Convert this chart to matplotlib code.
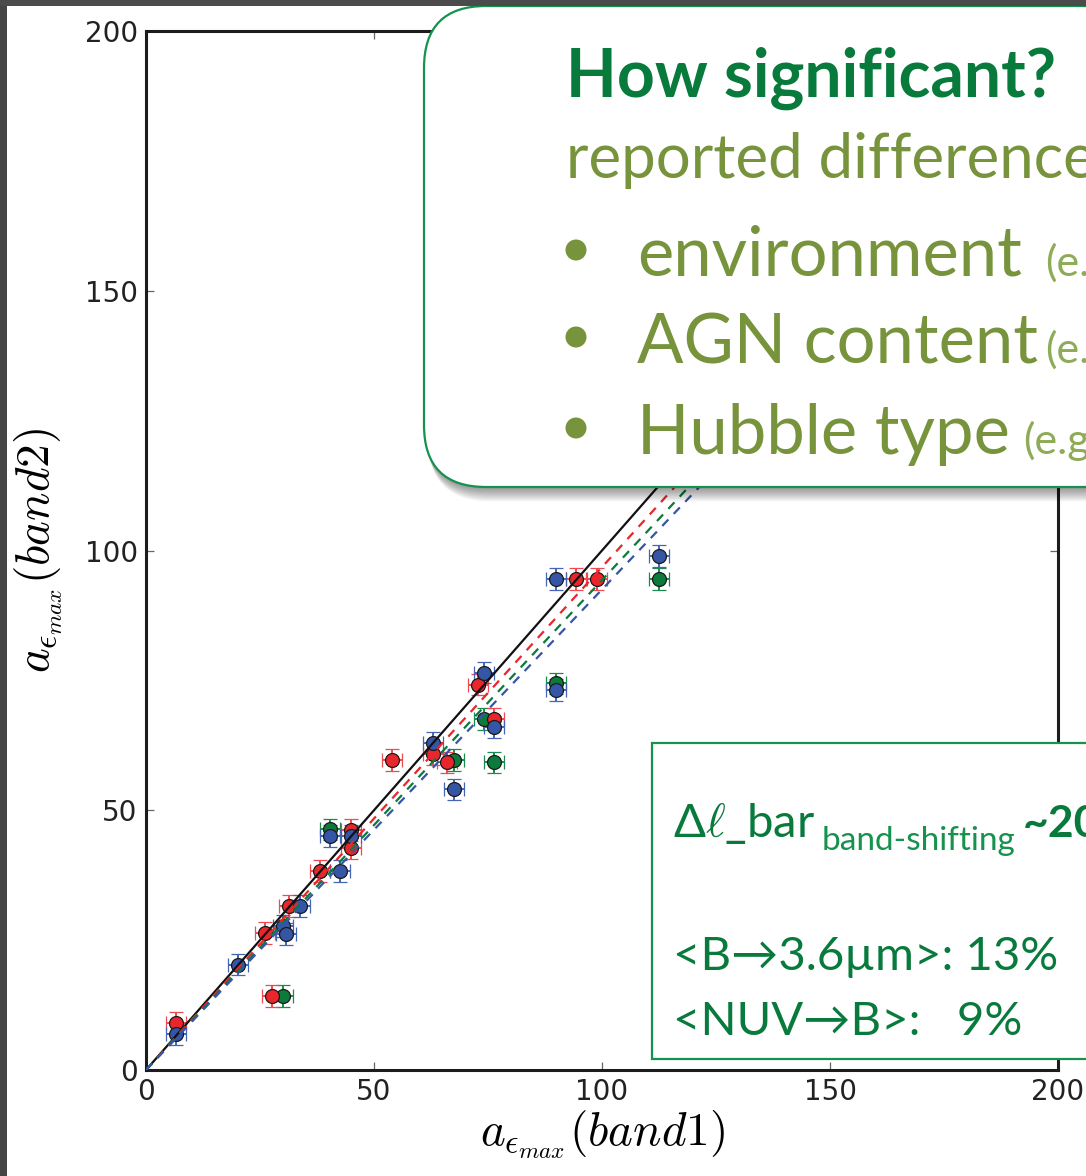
import matplotlib.pyplot as plt
from matplotlib.patches import FancyBboxPatch, Rectangle, Circle

plt.rcParams['mathtext.fontset'] = 'cm'

# a_eps_max measured in band1 (x) and band2 (y), one colour per band pair
red_x = [6.6, 26.1, 27.7, 31.4, 38.2, 45.0, 45.0, 53.9, 62.9, 66.0, 72.9, 76.4, 94.4, 99.0]
red_y = [9.1, 26.3, 14.2, 31.6, 38.3, 46.2, 42.8, 59.7, 60.8, 59.2, 74.2, 67.6, 94.5, 94.5]
green_x = [30.1, 40.4, 67.5, 74.1, 76.4, 89.9, 112.4]
green_y = [14.2, 46.3, 59.7, 67.6, 59.2, 74.4, 94.5]
blue_x = [6.6, 20.1, 30.0, 30.6, 33.8, 40.4, 42.5, 45.0, 62.9, 67.5, 74.1, 76.4, 89.9, 89.9, 112.4]
blue_y = [6.9, 20.3, 27.7, 26.2, 31.6, 45.0, 38.3, 45.0, 63.0, 54.0, 76.5, 66.0, 73.1, 94.5, 99.0]
x_err = 2.2
y_err = 2.1

# dashed fits y = s*x for each band pair
red_slope = 0.968
green_slope = 0.943
blue_slope = 0.925

ticks = [0, 50, 100, 150, 200]

bullets = ['environment', 'AGN content', 'Hubble type']
bullet_notes = ['(e.g.', '(e.g.', '(e.g.']

RED, GREEN, BLUE = '#e8262b', '#0b7a3b', '#3556a6'
RED_E, GREEN_E, BLUE_E = '#ef4a50', '#1a8a4e', '#4464b4'
DARK_GREEN = '#077a3c'
OLIVE = '#77933c'
BOX_GREEN = '#16924f'
FONT = ['Lato', 'DejaVu Sans']

W, H = 1086, 1176
fig = plt.figure(figsize=(W / 100, H / 100), dpi=100)
ax = fig.add_axes([146 / W, 1 - 1070 / H, 912 / W, 1039 / H])

for xs, ys, c, ec in [(green_x, green_y, GREEN, GREEN_E),
                      (red_x, red_y, RED, RED_E),
                      (blue_x, blue_y, BLUE, BLUE_E)]:
    ax.errorbar(xs, ys, xerr=x_err, yerr=y_err, fmt='o', ms=10, mfc=c,
                mec='#1a1a1a', mew=0.9, ecolor=ec, elinewidth=1.4,
                capsize=5, capthick=1.4, zorder=2)

line_x = [0, 200]
ax.plot(line_x, line_x, color='#111111', lw=1.6, zorder=3)
for s, c in [(red_slope, RED), (green_slope, GREEN), (blue_slope, BLUE)]:
    ax.plot(line_x, [s * v for v in line_x], color=c, lw=1.6,
            ls=(0, (4, 3.5)), zorder=3)

ax.set_xlim(0, 200)
ax.set_ylim(0, 200)
ax.set_xticks(ticks)
ax.set_yticks(ticks)
ax.tick_params(direction='in', length=6, width=0.9, color='#666666',
               labelsize=20, labelcolor='#222222', pad=6,
               top=True, right=True)
for sp in ax.spines.values():
    sp.set_linewidth(2.2)
    sp.set_color('#1c1c1c')
ax.set_xlabel(r'$a_{\epsilon_{max}}(band1)$', fontsize=34, labelpad=2)
ax.set_ylabel(r'$a_{\epsilon_{max}}(band2)$', fontsize=34, labelpad=14)

# overlay in pixel units for the slide call-outs
ov = fig.add_axes([0, 0, 1, 1], zorder=10)
ov.set_xlim(0, W)
ov.set_ylim(H, 0)
ov.axis('off')
ov.patch.set_alpha(0)

# soft shadow under the rounded call-out
for i in range(1, 13):
    ov.add_patch(FancyBboxPatch((424 + i * 0.35, 6 + i * 1.2), 720, 481,
                                boxstyle='round,pad=0,rounding_size=62',
                                fc='black', ec='none', alpha=0.04,
                                zorder=1))
ov.add_patch(FancyBboxPatch((424, 6), 720, 481,
                            boxstyle='round,pad=0,rounding_size=62',
                            fc='white', ec=BOX_GREEN, lw=1.6, zorder=2))

ov.text(566, 97, 'How significant?', fontsize=47.5, fontweight='bold',
        family=FONT, color=DARK_GREEN, zorder=3)
ov.text(566, 178, 'reported differences', fontsize=44.5, family=FONT,
        color=OLIVE, zorder=3)
note_x = [1045, 1045, 1023]
for i, (b, note) in enumerate(zip(bullets, bullet_notes)):
    base = [276, 363, 454][i]
    ov.add_patch(Circle((576, base - 26), 10.5, fc=OLIVE, ec='none',
                        zorder=3))
    ov.text(637, base, b, fontsize=49.5, family=FONT, color=OLIVE, zorder=3)
    ov.text(note_x[i], base, note, fontsize=31, family=FONT,
            color='#8eab58', zorder=3)

# rectangular summary box
ov.add_patch(Rectangle((652, 743), 480, 316, fc='white', ec=BOX_GREEN,
                       lw=1.6, zorder=2))
ov.text(673, 837, 'Δ$\\ell$_bar', fontsize=34, family=FONT,
        color=DARK_GREEN, zorder=3)
ov.text(822, 850, 'band-shifting', fontsize=24, family=FONT,
        color=BOX_GREEN, zorder=3)
ov.text(1023, 837, '~20', fontsize=32, fontweight='bold', family=FONT,
        color=DARK_GREEN, zorder=3)
ov.text(673, 970, '<B→3.6µm>: 13%', fontsize=34, family=FONT,
        color=DARK_GREEN, zorder=3)
ov.text(673, 1035, '<NUV→B>:   9%', fontsize=34, family=FONT,
        color=DARK_GREEN, zorder=3)

# dark slide frame at the left and top edges
ov.add_patch(Rectangle((0, 0), 7, H, fc='#454545', ec='none', zorder=5))
ov.add_patch(Rectangle((0, 0), W, 6, fc='#4b4b4b', ec='none', zorder=5))

fig.savefig('out.png', dpi=100)
